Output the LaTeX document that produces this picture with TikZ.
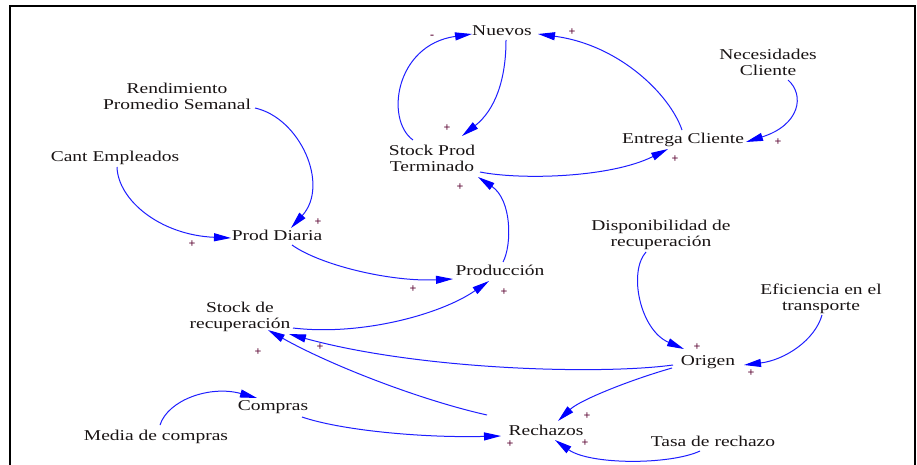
\documentclass[tikz,border=0pt]{standalone}
\usepackage{fontspec}
\setmainfont{Liberation Serif}
\usetikzlibrary{arrows.meta,calc}
\definecolor{txt}{RGB}{25,20,20}
\definecolor{lnk}{RGB}{30,30,255}
\definecolor{sgncol}{RGB}{95,10,55}
\begin{document}
\begin{tikzpicture}[x=1pt,y=-1pt,
  var/.style={font=\fontsize{15}{16}\selectfont, xscale=1.3, align=center, inner sep=0pt, text=txt},
  sgn/.style={font=\fontsize{12}{12}\selectfont\bfseries, text=sgncol, inner sep=0pt},
  lnk/.style={draw=lnk, line width=1pt, -{Triangle[length=17pt,width=8pt,color=blue]}}]
\useasboundingbox (0,0) rectangle (917,465);
\fill[white] (0,0) rectangle (917,465);
\draw[line width=1.5pt, black] (10,465) -- (10,6) -- (915,6) -- (915,465);
% variables
\node[var] (nue)   at (502,31)  {Nuevos};
\node[var] (nec)   at (768,62)  {Necesidades\\Cliente};
\node[var] (ren)   at (177,96)  {Rendimiento\\Promedio Semanal};
\node[var] (cant)  at (115,158) {Cant Empleados};
\node[var] (stp)   at (432,158) {Stock Prod\\Terminado};
\node[var] (ent)   at (683,140) {Entrega Cliente};
\node[var] (pd)    at (277,235) {Prod Diaria};
\node[var] (disp)  at (661,235) {Disponibilidad de\\recuperación};
\node[var] (prod)  at (500,270) {Producción};
\node[var] (efi)   at (821,299) {Eficiencia en el\\transporte};
\node[var] (sr)    at (240,317) {Stock de\\recuperación};
\node[var] (ori)   at (708,362) {Origen};
\node[var] (com)   at (273,407) {Compras};
\node[var] (rech)  at (546,430) {Rechazos};
\node[var] (media) at (156,437) {Media de compras};
\node[var] (tasa)  at (713,441) {Tasa de rechazo};
% links
\draw[lnk] ($(stp)+(-19,-18)$) .. controls (385,120) and (395,45) .. ($(nue)+(-30,3)$);
\draw[lnk] ($(nue)+(4,9)$) .. controls (506,80) and (495,110) .. ($(stp)+(30,-22)$);
\draw[lnk] ($(ent)+(-1,-10)$) .. controls (670,95) and (620,45) .. ($(nue)+(36,3)$);
\draw[lnk] ($(stp)+(48,14)$) .. controls (520,180) and (610,178) .. ($(ent)+(-15,9)$);
\draw[lnk] ($(nec)+(20,18)$) .. controls (805,95) and (800,125) .. ($(ent)+(63,2)$);
\draw[lnk] ($(ren)+(78,12)$) .. controls (300,118) and (330,185) .. ($(pd)+(14,-7)$);
\draw[lnk] ($(cant)+(2,9)$) .. controls (118,200) and (160,235) .. ($(pd)+(-46,3)$);
\draw[lnk] ($(pd)+(15,10)$) .. controls (320,265) and (390,282) .. ($(prod)+(-47,9)$);
\draw[lnk] ($(prod)+(3,-8)$) .. controls (512,245) and (512,200) .. ($(stp)+(46,19)$);
\draw[lnk] ($(sr)+(53,11)$) .. controls (360,336) and (440,315) .. ($(prod)+(-11,11)$);
\draw[lnk] ($(disp)+(-15,17)$) .. controls (628,272) and (640,330) .. ($(ori)+(-24,-13)$);
\draw[lnk] ($(efi)+(1,16)$) .. controls (815,340) and (785,360) .. ($(ori)+(36,3)$);
\draw[lnk] ($(ori)+(-35,3)$) .. controls (600,375) and (420,370) .. ($(sr)+(49,17)$);
\draw[lnk] ($(rech)+(-59,-15)$) .. controls (420,400) and (330,365) .. ($(sr)+(28,13)$);
\draw[lnk] ($(ori)+(-36,6)$) .. controls (630,380) and (580,400) .. ($(rech)+(12,-9)$);
\draw[lnk] ($(com)+(29,10)$) .. controls (340,430) and (420,438) .. ($(rech)+(-45,6)$);
\draw[lnk] ($(tasa)+(-13,10)$) .. controls (670,465) and (590,465) .. ($(rech)+(9,10)$);
\draw[lnk] ($(media)+(4,-12)$) .. controls (168,400) and (210,385) .. ($(com)+(-16,-9)$);
% polarity signs
\node[sgn] (s1)  at (432,37)  {-};
\node[sgn] (s2)  at (572,32)  {+};
\node[sgn] (s3)  at (447,128) {+};
\node[sgn] (s4)  at (460,187) {+};
\node[sgn] (s5)  at (778,142) {+};
\node[sgn] (s6)  at (675,159) {+};
\node[sgn] (s7)  at (318,222) {+};
\node[sgn] (s8)  at (192,244) {+};
\node[sgn] (s9)  at (413,289) {+};
\node[sgn] (s10) at (504,292) {+};
\node[sgn] (s11) at (697,347) {+};
\node[sgn] (s12) at (751,373) {+};
\node[sgn] (s13) at (258,352) {+};
\node[sgn] (s14) at (320,347) {+};
\node[sgn] (s15) at (587,416) {+};
\node[sgn] (s16) at (585,443) {+};
\node[sgn] (s17) at (510,444) {+};
\end{tikzpicture}
\end{document}
